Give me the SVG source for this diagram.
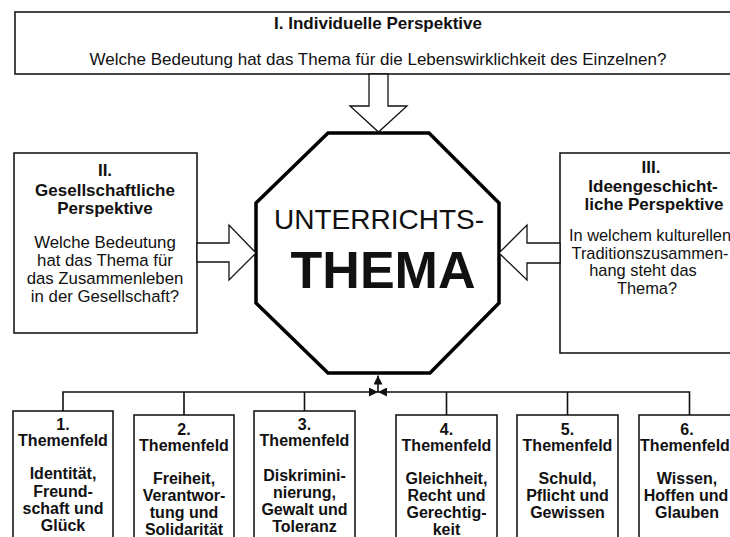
<svg xmlns="http://www.w3.org/2000/svg" width="730" height="537" viewBox="0 0 730 537">
<style>
.bg{fill:#fff}
.box{fill:#fff;stroke:#1a1a1a;stroke-width:1.6}
.oct{fill:#fff;stroke:#000;stroke-width:3.5;stroke-linejoin:miter}
.arr{fill:#fff;stroke:#111;stroke-width:1.3;stroke-linejoin:miter}
.ln{fill:none;stroke:#111;stroke-width:1.6}
text{font-family:"Liberation Sans",Arial,Helvetica,sans-serif;fill:#111;text-anchor:middle}
.t17{font-size:17px}
.t17b{font-size:17px;font-weight:bold}
.sb{font-size:17px;font-weight:bold}
.q{font-size:16.8px}
.qr{font-size:16.4px}
.tf{font-size:16px;font-weight:bold}
</style>
<defs>
<marker id="ah" viewBox="0 0 10 10" refX="10" refY="5" markerWidth="9" markerHeight="9" markerUnits="userSpaceOnUse" orient="auto">
<path d="M0,0 L10,5 L0,10 z" fill="#111"/>
</marker>
</defs>
<rect class="bg" x="0" y="0" width="730" height="537"/>

<g id="individuelle-perspektive">
<rect class="box" x="15" y="12" width="730" height="62"/>
<text class="t17b" x="378" y="29">I. Individuelle Perspektive</text>
<text class="t17" x="378" y="65">Welche Bedeutung hat das Thema für die Lebenswirklichkeit des Einzelnen?</text>
</g>

<g id="gesellschaftliche-perspektive">
<rect class="box" x="14" y="153" width="183" height="180"/>
<text class="sb" x="105" y="176">II.</text>
<text class="sb" x="105" y="195.5">Gesellschaftliche</text>
<text class="sb" x="105" y="214">Perspektive</text>
<text class="q" x="105" y="248">Welche Bedeutung</text>
<text class="q" x="105" y="266">hat das Thema für</text>
<text class="q" x="105" y="284">das Zusammenleben</text>
<text class="q" x="105" y="302">in der Gesellschaft?</text>
</g>

<g id="ideengeschichtliche-perspektive">
<rect class="box" x="560" y="153" width="185" height="200"/>
<text class="sb" x="651" y="173">III.</text>
<text class="sb" x="653" y="191.5">Ideengeschicht-</text>
<text class="sb" x="654" y="210">liche Perspektive</text>
<text class="qr" x="650" y="241">In welchem kulturellen</text>
<text class="qr" x="650" y="258.5">Traditionszusammen-</text>
<text class="qr" x="643" y="276">hang steht das</text>
<text class="qr" x="647" y="293.5">Thema?</text>
</g>

<g id="unterrichtsthema">
<polygon class="oct" points="328,133 429,133 499,203 499,303 430,373 328,373 256,303 256,203"/>
<text x="379" y="229" style="font-size:28px">UNTERRICHTS-</text>
<text x="383" y="288" style="font-size:52px;font-weight:bold">THEMA</text>
</g>

<g id="themenfeld-1">
<rect class="box" x="13" y="411" width="100" height="140"/>
<text class="tf" x="63" y="430">1.</text>
<text class="tf" x="63" y="446">Themenfeld</text>
<text class="tf" x="63" y="479">Identität,</text>
<text class="tf" x="63" y="497">Freund-</text>
<text class="tf" x="63" y="514">schaft und</text>
<text class="tf" x="63" y="531">Glück</text>
</g>

<g id="themenfeld-2">
<rect class="box" x="134" y="415" width="100" height="140"/>
<text class="tf" x="184" y="435">2.</text>
<text class="tf" x="184" y="451">Themenfeld</text>
<text class="tf" x="184" y="484">Freiheit,</text>
<text class="tf" x="184" y="501">Verantwor-</text>
<text class="tf" x="184" y="518">tung und</text>
<text class="tf" x="184" y="535">Solidarität</text>
</g>

<g id="themenfeld-3">
<rect class="box" x="254" y="411" width="101" height="140"/>
<text class="tf" x="304.5" y="430">3.</text>
<text class="tf" x="304.5" y="446">Themenfeld</text>
<text class="tf" x="304.5" y="481">Diskrimini-</text>
<text class="tf" x="304.5" y="498">nierung,</text>
<text class="tf" x="304.5" y="515">Gewalt und</text>
<text class="tf" x="304.5" y="532">Toleranz</text>
</g>

<g id="themenfeld-4">
<rect class="box" x="396" y="415" width="101" height="140"/>
<text class="tf" x="446.5" y="435">4.</text>
<text class="tf" x="446.5" y="451">Themenfeld</text>
<text class="tf" x="446.5" y="484">Gleichheit,</text>
<text class="tf" x="446.5" y="501">Recht und</text>
<text class="tf" x="446.5" y="518">Gerechtig-</text>
<text class="tf" x="446.5" y="535">keit</text>
</g>

<g id="themenfeld-5">
<rect class="box" x="517" y="415" width="101" height="140"/>
<text class="tf" x="567.5" y="435">5.</text>
<text class="tf" x="567.5" y="451">Themenfeld</text>
<text class="tf" x="567.5" y="484">Schuld,</text>
<text class="tf" x="567.5" y="501">Pflicht und</text>
<text class="tf" x="567.5" y="518">Gewissen</text>
</g>

<g id="themenfeld-6">
<rect class="box" x="639" y="415" width="102" height="140"/>
<text class="tf" x="687" y="435">6.</text>
<text class="tf" x="685" y="451">Themenfeld</text>
<text class="tf" x="687" y="484">Wissen,</text>
<text class="tf" x="686" y="501">Hoffen und</text>
<text class="tf" x="687" y="518">Glauben</text>
</g>

<g id="connectors">
<polygon class="arr" points="369,74 388,74 388,106 407,106 378.5,132 350,106 369,106"/>
<polygon class="arr" points="197,243 229,243 229,225 256,253 229,280 229,262 197,262"/>
<polygon class="arr" points="560,243 527,243 527,225 499,253 527,280 527,263 560,263"/>
<path class="ln" d="M378,392 V375.5" marker-end="url(#ah)"/>
<path class="ln" d="M63,411 V392 H378" marker-end="url(#ah)"/>
<path class="ln" d="M689.5,415 V392 H378" marker-end="url(#ah)"/>
<path class="ln" d="M184,392 V415 M304.5,392 V411 M446.5,392 V415 M567.5,392 V415"/>
</g>
</svg>
